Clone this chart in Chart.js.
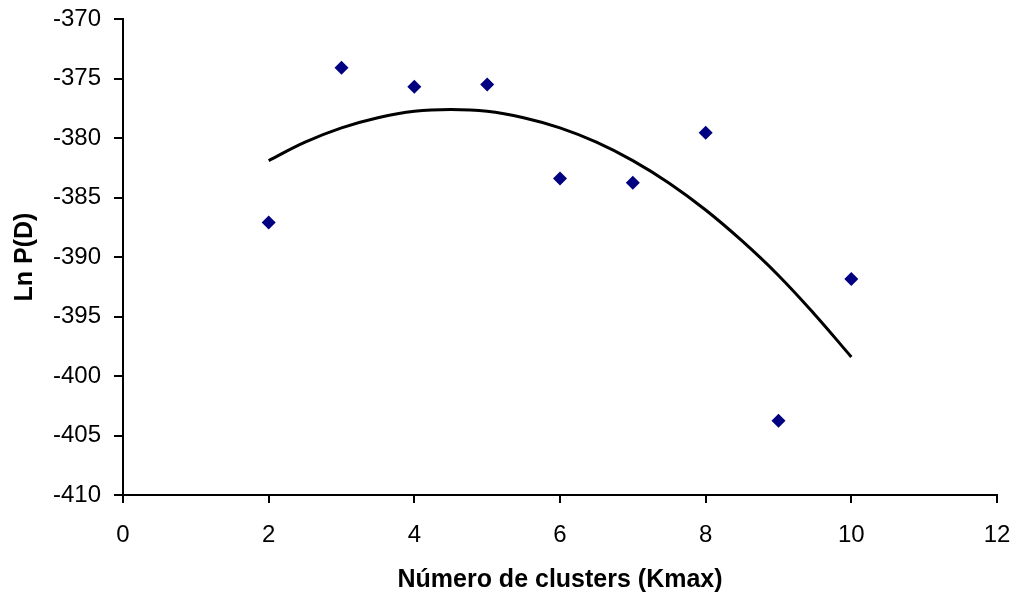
<!DOCTYPE html>
<html>
<head>
<meta charset="utf-8">
<script src="https://cdn.jsdelivr.net/npm/chart.js@4"></script>
<style>
  html, body { margin: 0; padding: 0; background: #fff; }
  #wrap { width: 1017px; height: 598px; }
</style>
</head>
<body>
<div id="wrap"><canvas id="grafico" width="1017" height="598"></canvas></div>
<script>
// dados
const kmax = [2, 3, 4, 5, 6, 7, 8, 9, 10];
const lnPD = [-387.1, -374.1, -375.7, -375.5, -383.4, -383.75, -379.55, -403.75, -391.85];

// linha de tendência (polinomial), lida ponto a ponto
const tendX = [2, 2.5, 3, 3.5, 4, 4.5, 5, 5.5, 6, 6.5, 7, 7.5, 8, 8.5, 9, 9.5, 10];
const tendY = [-381.9, -380.35, -379.15, -378.3, -377.75, -377.6, -377.75, -378.3, -379.15, -380.35, -381.9, -383.8, -386.05, -388.65, -391.55, -394.85, -398.4];

const xTicks = [0, 2, 4, 6, 8, 10, 12];
const yTicks = [-410, -405, -400, -395, -390, -385, -380, -375, -370];

const fonte = "'Liberation Sans', Arial, sans-serif";

new Chart(document.getElementById('grafico').getContext('2d'), {
    type: 'scatter',
    data: {
        datasets: [
            {
                label: 'Ln P(D)',
                data: kmax.map((k, i) => ({ x: k, y: lnPD[i] })),
                pointStyle: 'rectRot', pointRadius: 7, pointHoverRadius: 7,
                backgroundColor: '#000080', borderColor: '#000080', borderWidth: 0
            },
            {
                label: 'Tendência',
                data: tendX.map((k, i) => ({ x: k, y: tendY[i] })),
                showLine: true, pointRadius: 0, borderColor: '#000000', borderWidth: 3,
                tension: 0.4, fill: false
            }
        ]
    },
    options: {
        responsive: false, animation: false,
        layout: { autoPadding: false, padding: { top: 19, right: 20, left: 0, bottom: 0 } },
        plugins: { legend: { display: false }, tooltip: { enabled: false } },
        scales: {
            x: {
                type: 'linear', min: 0, max: 12,
                afterBuildTicks: s => { s.ticks = xTicks.map(v => ({ value: v })); },
                afterFit: s => { s.height = 103; s.paddingLeft = 0; s.paddingRight = 0; },
                grid: { drawOnChartArea: false, drawTicks: true, tickLength: 8, color: '#000', lineWidth: 2 },
                border: { display: true, color: '#000', width: 2 },
                ticks: { color: '#000', padding: 18, maxRotation: 0, font: { family: fonte, size: 24 } },
                title: { display: true, text: 'Número de clusters (Kmax)', color: '#000', padding: { top: 0, bottom: 3 }, font: { family: fonte, size: 25, weight: 'bold' } }
            },
            y: {
                type: 'linear', min: -410, max: -370,
                afterBuildTicks: s => { s.ticks = yTicks.map(v => ({ value: v })); },
                afterFit: s => { s.width = 123; s.paddingTop = 0; s.paddingBottom = 0; },
                grid: { drawOnChartArea: false, drawTicks: true, tickLength: 9, color: '#000', lineWidth: 2 },
                border: { display: true, color: '#000', width: 2 },
                ticks: { color: '#000', padding: 13, font: { family: fonte, size: 24 } },
                title: { display: true, text: 'Ln P(D)', color: '#000', padding: { top: 10, bottom: 0 }, font: { family: fonte, size: 25, weight: 'bold' } }
            }
        }
    }
});
</script>
</body>
</html>
